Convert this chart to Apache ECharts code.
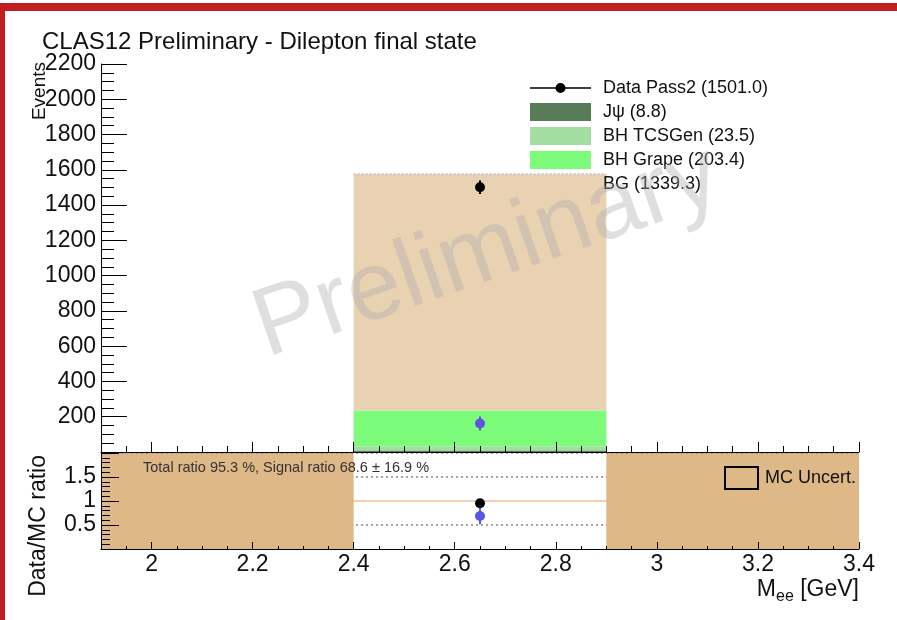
<!DOCTYPE html>
<html><head><meta charset="utf-8">
<script src="https://cdn.jsdelivr.net/npm/echarts@6/dist/echarts.min.js"></script>
<style>html,body{margin:0;padding:0;background:#fff}#c{width:897px;height:620px}</style>
</head><body><div id="c"></div>
<script>
const FONT = '"Liberation Sans", Arial, Helvetica, sans-serif';
// ---- data ----
const binLo = [2.4];
const binHi = [2.9];
const binCenter = [2.65];
const mcNames = ['Jψ', 'BH TCSGen', 'BH Grape', 'BG'];   // stacked bottom -> top
const mcJpsi = [8.8];
const mcTcsGen = [23.5];
const mcGrape = [203.4];
const mcBg = [1339.3];
const dataName = 'Data Pass2';
const dataCounts = [1501.0];
const dataErr = [38.7];
const signalCounts = [161.7];
const signalErr = [39.8];
const ratioTotal = [0.953];
const ratioTotalErr = [0.025];
const ratioSignal = [0.686];
const ratioSignalErr = [0.169];
const mcUncLo = [1.9, 2.9];
const mcUncHi = [2.4, 3.4];
const mcUncDown = [0, 0];
const mcUncUp = [2, 2];
const ratioRefLinesBelow = [0.5, 1.5];
const ratioUnityLine = [1.0];
const ratioRefLinesTop = [2.0];
const xMajorTicks = [2.0, 2.2, 2.4, 2.6, 2.8, 3.0, 3.2, 3.4];
const totalRatioPct = 95.3, signalRatioPct = 68.6, signalRatioErrPct = 16.9;
// ---- styles ----
const mcColors = ['#587b58', '#a3dea0', '#7cfc7a', '#e9d2b2'];

const comps = [mcJpsi, mcTcsGen, mcGrape, mcBg];
function rectItem(params, api) {
  const a = api.coord([api.value(0), api.value(3)]);
  const b = api.coord([api.value(1), api.value(2)]);
  return {type: 'rect', shape: {x: a[0], y: a[1], width: b[0] - a[0], height: b[1] - a[1]},
    style: {fill: api.visual('color')}};
}
function pointItem(color, r) {
  return function (params, api) {
    const x = api.value(0), y = api.value(1), e = api.value(2);
    const c = api.coord([x, y]), lo = api.coord([x, y - e]), hi = api.coord([x, y + e]);
    return {type: 'group', children: [
      {type: 'line', shape: {x1: c[0], y1: lo[1], x2: c[0], y2: hi[1]}, style: {stroke: color, lineWidth: 2}},
      {type: 'circle', shape: {cx: c[0], cy: c[1], r: r}, style: {fill: color}}
    ]};
  };
}
function hLineItem(color, width, dash) {
  return function (params, api) {
    const a = api.coord([api.value(0), api.value(2)]);
    const b = api.coord([api.value(1), api.value(2)]);
    return {type: 'line', shape: {x1: a[0], y1: a[1], x2: b[0], y2: b[1]},
      style: {stroke: color, lineWidth: width, lineDash: dash}};
  };
}
const stackSeries = comps.map((arr, k) => {
  const d = arr.map((v, i) => {
    let base = 0; for (let j = 0; j < k; j++) base += comps[j][i];
    return [binLo[i], binHi[i], base, base + v];
  });
  return {type: 'custom', name: mcNames[k] + ' (' + arr.reduce((a, b) => a + b, 0).toFixed(1) + ')',
    xAxisIndex: 0, yAxisIndex: 0, itemStyle: {color: mcColors[k]}, data: d, renderItem: rectItem, z: 2};
});
const mcTotal = binLo.map((lo, i) => [lo, binHi[i], comps.reduce((s, a) => s + a[i], 0)]);
const dataLabel = dataName + ' (' + dataCounts.reduce((a, b) => a + b, 0).toFixed(1) + ')';
const xFull = [1.9, 3.4];

const axisLbl = {fontSize: 23, fontFamily: FONT, color: '#111'};
const option = {
  animation: false,
  backgroundColor: '#fff',
  title: {text: 'CLAS12 Preliminary - Dilepton final state', left: 42, top: 30, padding: 0,
    textStyle: {fontSize: 24, fontWeight: 'normal', color: '#111', fontFamily: FONT}},
  grid: [
    {left: 101, top: 64, width: 758, height: 388},
    {left: 101, top: 453, width: 758, height: 96}
  ],
  xAxis: [
    {type: 'value', gridIndex: 0, min: 1.9, max: 3.4, interval: 0.1, z: 10,
      axisLine: {show: true, lineStyle: {color: '#000', width: 1}},
      axisTick: {show: true, inside: true, length: 10, customValues: xMajorTicks, lineStyle: {color: '#000'}},
      axisLabel: {show: false}, splitLine: {show: false}},
    {type: 'value', gridIndex: 1, min: 1.9, max: 3.4, interval: 0.1, z: 10,
      axisLine: {show: true, lineStyle: {color: '#000', width: 1}},
      axisTick: {show: true, inside: true, length: 7, customValues: xMajorTicks, lineStyle: {color: '#000'}},
      axisLabel: Object.assign({show: true, margin: 4, customValues: xMajorTicks, formatter: v => String(v)}, axisLbl),
      splitLine: {show: false}},
    {type: 'value', gridIndex: 0, position: 'bottom', min: 1.9, max: 3.4, interval: 0.05, z: 10,
      axisLine: {show: false}, axisTick: {show: true, inside: true, length: 6, lineStyle: {color: '#000'}},
      axisLabel: {show: false}, splitLine: {show: false}},
    {type: 'value', gridIndex: 1, position: 'bottom', min: 1.9, max: 3.4, interval: 0.05, z: 10,
      axisLine: {show: false}, axisTick: {show: true, inside: true, length: 3, lineStyle: {color: '#000'}},
      axisLabel: {show: false}, splitLine: {show: false}}
  ],
  yAxis: [
    {type: 'value', gridIndex: 0, min: 0, max: 2200, interval: 200, z: 10,
      axisLine: {show: true, lineStyle: {color: '#000', width: 1}},
      axisTick: {show: true, inside: true, length: 26, lineStyle: {color: '#000'}},
      minorTick: {show: true, splitNumber: 4, length: 13, lineStyle: {color: '#000'}},
      axisLabel: Object.assign({margin: 5, formatter: v => v === 0 ? '' : String(v)}, axisLbl),
      splitLine: {show: false}},
    {type: 'value', gridIndex: 1, min: 0, max: 2, interval: 0.5, z: 10,
      axisLine: {show: true, lineStyle: {color: '#000', width: 1}},
      axisTick: {show: true, inside: true, length: 18, lineStyle: {color: '#000'}},
      minorTick: {show: true, splitNumber: 5, length: 9, lineStyle: {color: '#000'}},
      axisLabel: Object.assign({margin: 5, formatter: v => (v === 0 || v === 2) ? '' : String(v)}, axisLbl),
      splitLine: {show: false}}
  ],
  legend: [
    {orient: 'vertical', left: 530, top: 79, padding: 0, itemWidth: 61, itemHeight: 18, itemGap: 6, z: 20,
      selectedMode: false,
      textStyle: {fontSize: 18, fontFamily: FONT, color: '#111', padding: [0, 0, 0, 7]},
      data: [{name: dataLabel, icon: 'path://M0,7.8H61V9.2H0Z M25.5,8.5a5,5 0 1,1 10,0a5,5 0 1,1 -10,0Z'}]
        .concat(stackSeries.map(s => ({name: s.name, icon: 'rect'})))},
    {orient: 'vertical', left: 724, top: 466, padding: 0, itemWidth: 33, itemHeight: 22, selectedMode: false, z: 20,
      textStyle: {fontSize: 18, fontFamily: FONT, color: '#111', padding: [0, 0, 0, 2]},
      data: [{name: 'MC Uncert.', icon: 'rect',
        itemStyle: {color: 'rgba(0,0,0,0)', borderColor: '#000', borderWidth: 2}}]}
  ],
  series: stackSeries.concat([
    {type: 'custom', name: 'mcTotal', xAxisIndex: 0, yAxisIndex: 0, z: 3, data: mcTotal,
      renderItem: hLineItem('#c4c4c4', 2, [2, 2])},
    {type: 'custom', name: dataLabel, xAxisIndex: 0, yAxisIndex: 0, z: 4, itemStyle: {color: '#000'},
      data: binCenter.map((x, i) => [x, dataCounts[i], dataErr[i]]), renderItem: pointItem('#000', 5)},
    {type: 'custom', name: 'signal', xAxisIndex: 0, yAxisIndex: 0, z: 4, itemStyle: {color: '#5a55e6'},
      data: binCenter.map((x, i) => [x, signalCounts[i], signalErr[i]]), renderItem: pointItem('#5a55e6', 5)},
    {type: 'custom', name: 'refBelow', xAxisIndex: 1, yAxisIndex: 1, z: 2,
      data: ratioRefLinesBelow.map(v => [xFull[0], xFull[1], v]), renderItem: hLineItem('#888', 1.5, [2, 3])},
    {type: 'custom', name: 'refUnity', xAxisIndex: 1, yAxisIndex: 1, z: 2,
      data: ratioUnityLine.map(v => [xFull[0], xFull[1], v]), renderItem: hLineItem('#e6a865', 1.2, null)},
    {type: 'custom', name: 'MC Uncert.', xAxisIndex: 1, yAxisIndex: 1, z: 6, itemStyle: {color: '#deb887'},
      data: mcUncLo.map((lo, i) => [lo, mcUncHi[i], mcUncDown[i], mcUncUp[i]]), renderItem: rectItem},
    {type: 'custom', name: 'refTop', xAxisIndex: 1, yAxisIndex: 1, z: 7,
      data: ratioRefLinesTop.map(v => [xFull[0], xFull[1], v]), renderItem: hLineItem('#888', 1.5, [2, 3])},
    {type: 'custom', name: 'ratioTotal', xAxisIndex: 1, yAxisIndex: 1, z: 8,
      data: binCenter.map((x, i) => [x, ratioTotal[i], ratioTotalErr[i]]), renderItem: pointItem('#000', 5)},
    {type: 'custom', name: 'ratioSignal', xAxisIndex: 1, yAxisIndex: 1, z: 8,
      data: binCenter.map((x, i) => [x, ratioSignal[i], ratioSignalErr[i]]), renderItem: pointItem('#5a55e6', 5)}
  ]),
  graphic: [
    {type: 'rect', left: 0, top: 3, z: 100, shape: {width: 897, height: 8}, style: {fill: '#c01e21'}},
    {type: 'rect', left: 0, top: 3, z: 100, shape: {width: 5, height: 617}, style: {fill: '#c01e21'}},
    {type: 'text', x: 40, y: 62, rotation: Math.PI / 2, z: 50,
      style: {text: 'Events', fontSize: 19, fontFamily: FONT, fill: '#111', align: 'right', verticalAlign: 'middle'}},
    {type: 'text', x: 39, y: 455, rotation: Math.PI / 2, z: 50,
      style: {text: 'Data/MC ratio', fontSize: 23, fontFamily: FONT, fill: '#111', align: 'right', verticalAlign: 'middle'}},
    {type: 'text', right: 38, top: 578, z: 50,
      style: {text: '{m|M}{s|ee}{m| [GeV]}', fill: '#111',
        rich: {m: {fontSize: 23, fontFamily: FONT, fill: '#111', verticalAlign: 'bottom'},
               s: {fontSize: 16, fontFamily: FONT, fill: '#111', verticalAlign: 'bottom', padding: [0, 0, -4, 0]}}}},
    {type: 'text', x: 143, y: 468, z: 50,
      style: {text: 'Total ratio ' + totalRatioPct.toFixed(1) + ' %, Signal ratio ' + signalRatioPct.toFixed(1) +
        ' ± ' + signalRatioErrPct.toFixed(1) + ' %', fontSize: 14.5, fontFamily: FONT, fill: '#333', verticalAlign: 'middle'}},
    {type: 'text', x: 487, y: 253, rotation: 19 * Math.PI / 180, z: 90, silent: true,
      style: {text: 'Preliminary', fontSize: 97, fontFamily: FONT, fill: 'rgba(170,170,170,0.38)',
        align: 'center', verticalAlign: 'middle'}}
  ]
};
const chart = echarts.init(document.getElementById('c'), null, {renderer: 'canvas'});
chart.setOption(option);
</script></body></html>
